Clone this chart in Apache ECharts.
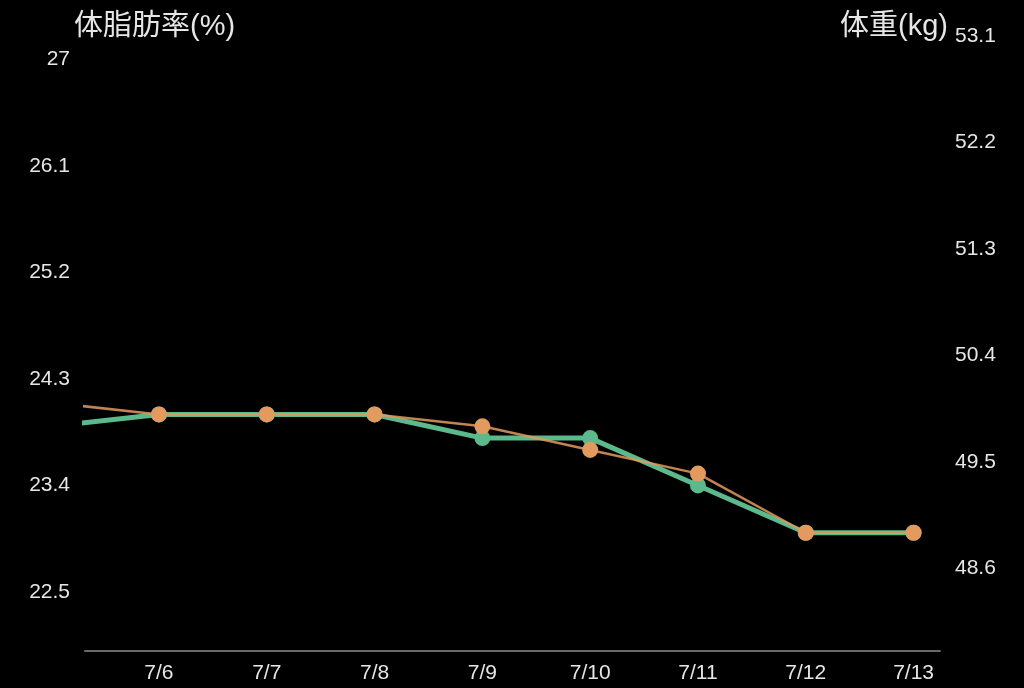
<!DOCTYPE html>
<html>
<head>
<meta charset="utf-8">
<script src="https://cdn.jsdelivr.net/npm/echarts@6/dist/echarts.min.js"></script>
<style>
  html, body { margin: 0; padding: 0; background: #000; }
  #chart { width: 1024px; height: 688px; }
</style>
</head>
<body>
<div id="chart"></div>
<script>
// dates shown on the x axis (7/5 is partly cut off at the left edge)
var dates = ['7/5', '7/6', '7/7', '7/8', '7/9', '7/10', '7/11', '7/12', '7/13'];
var bodyFat = [23.9, 24.0, 24.0, 24.0, 23.8, 23.8, 23.4, 23.0, 23.0];   // 体脂肪率(%)
var weight = [50.0, 49.9, 49.9, 49.9, 49.8, 49.6, 49.4, 48.9, 48.9];    // 体重(kg)
var fatTicks = [22.5, 23.4, 24.3, 25.2, 26.1, 27];
var weightTicks = [48.6, 49.5, 50.4, 51.3, 52.2, 53.1];

var font = '"Liberation Sans", "Noto Sans CJK JP", sans-serif';
var textColor = '#e6e6e6';

function dayOf(d) { return parseInt(d.split('/')[1], 10); }
var dayTicks = dates.slice(1).map(dayOf);
var fatData = dates.map(function (d, i) { return [dayOf(d), bodyFat[i]]; });
var weightData = dates.map(function (d, i) { return [dayOf(d), weight[i]]; });

var chart = echarts.init(document.getElementById('chart'));
var option = {
  backgroundColor: '#000',
  animation: false,
  grid: { left: 85, right: 84, top: 36, bottom: 37 },
  graphic: [
    { type: 'text', left: 74, top: 12,
      style: { text: '体脂肪率(%)', fill: textColor, font: '29px ' + font } },
    { type: 'text', right: 76, top: 12,
      style: { text: '体重(kg)', fill: textColor, font: '29px ' + font } }
  ],
  xAxis: {
    type: 'value',
    min: 5.314,
    max: 13.245,
    axisLine: { show: true, lineStyle: { color: '#6a6a6a', width: 2 } },
    axisTick: { show: false },
    splitLine: { show: false },
    axisLabel: {
      customValues: dayTicks,
      formatter: function (v) { return '7/' + v; },
      color: textColor, fontSize: 21, fontFamily: font, margin: 12
    }
  },
  yAxis: [
    {
      type: 'value', position: 'left',
      min: 22.0, max: 27.2,
      axisLine: { show: false }, axisTick: { show: false }, splitLine: { show: false },
      axisLabel: { customValues: fatTicks, color: textColor, fontSize: 21, fontFamily: font, margin: 15 }
    },
    {
      type: 'value', position: 'right',
      min: 47.9, max: 53.1,
      axisLine: { show: false }, axisTick: { show: false }, splitLine: { show: false },
      axisLabel: { customValues: weightTicks, color: textColor, fontSize: 21, fontFamily: font, margin: 15 }
    }
  ],
  series: [
    {
      name: '体脂肪率',
      type: 'line',
      yAxisIndex: 0,
      data: fatData,
      symbol: 'circle',
      symbolSize: 16,
      lineStyle: { color: '#5bb98b', width: 5 },
      itemStyle: { color: '#5bb98b' },
      z: 2
    },
    {
      name: '体重',
      type: 'line',
      yAxisIndex: 1,
      data: weightData,
      symbol: 'circle',
      symbolSize: 16,
      lineStyle: { color: '#e39a5e', width: 2.5, opacity: 0.85 },
      itemStyle: { color: '#e39a5e' },
      z: 3
    }
  ]
};
chart.setOption(option);
</script>
</body>
</html>
